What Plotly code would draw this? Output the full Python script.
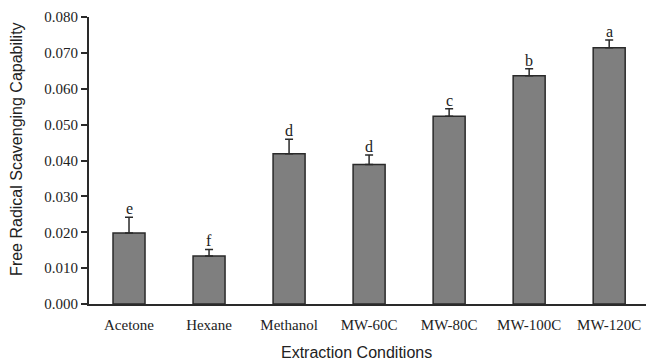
import plotly.graph_objects as go

categories = ["Acetone", "Hexane", "Methanol", "MW-60C", "MW-80C", "MW-100C", "MW-120C"]
values = [0.0198, 0.0134, 0.0419, 0.0389, 0.0523, 0.0636, 0.0714]
errors = [0.0044, 0.0018, 0.0040, 0.0026, 0.0021, 0.0020, 0.0022]
letters = ["e", "f", "d", "d", "c", "b", "a"]
y_ticks = [0.0, 0.01, 0.02, 0.03, 0.04, 0.05, 0.06, 0.07, 0.08]
y_tick_labels = ["0.000", "0.010", "0.020", "0.030", "0.040", "0.050", "0.060", "0.070", "0.080"]

fig = go.Figure()
fig.add_trace(go.Bar(
    x=categories, y=values, width=0.4,
    marker=dict(color="#7f7f7f", line=dict(color="#2a2a2a", width=1.5)),
    error_y=dict(type="data", symmetric=False, array=errors,
                 arrayminus=[0] * len(errors), color="#2a2a2a",
                 thickness=1.5, width=4),
))

for c, v, e, l in zip(categories, values, errors, letters):
    fig.add_annotation(x=c, y=v + e, text=l, showarrow=False,
                       yanchor="bottom", yshift=-2,
                       font=dict(family="Liberation Serif", size=16, color="#222"))

fig.add_annotation(xref="paper", yref="paper", x=0.481, y=0, yshift=-48,
                   text="Extraction Conditions", showarrow=False,
                   xanchor="center", yanchor="middle",
                   font=dict(family="Liberation Sans", size=16, color="#222"))
fig.add_annotation(xref="paper", yref="paper", x=0, xshift=-72, y=0.537,
                   text="Free Radical Scavenging Capability", showarrow=False,
                   textangle=-90, xanchor="center", yanchor="middle",
                   font=dict(family="Liberation Sans", size=16, color="#222"))

fig.update_layout(
    width=646, height=362,
    margin=dict(l=89, r=0, t=17, b=58),
    plot_bgcolor="white", paper_bgcolor="white",
    showlegend=False,
    xaxis=dict(range=[-0.5, 6.46], showline=True, linecolor="#2a2a2a", linewidth=2,
               automargin=False, ticks="", ticklabelstandoff=6,
               tickfont=dict(family="Liberation Serif", size=15, color="#222")),
    yaxis=dict(range=[0, 0.08], tickvals=y_ticks, ticktext=y_tick_labels,
               automargin=False,
               showline=True, linecolor="#2a2a2a", linewidth=2, showgrid=False,
               zeroline=False, ticks="outside", ticklen=6, tickwidth=1.5, tickcolor="#2a2a2a",
               tickfont=dict(family="Liberation Serif", size=15, color="#222")),
)

fig.write_html("out.html", config={"displayModeBar": False},
               post_script="document.body.style.margin='0';document.body.style.overflow='hidden';")
